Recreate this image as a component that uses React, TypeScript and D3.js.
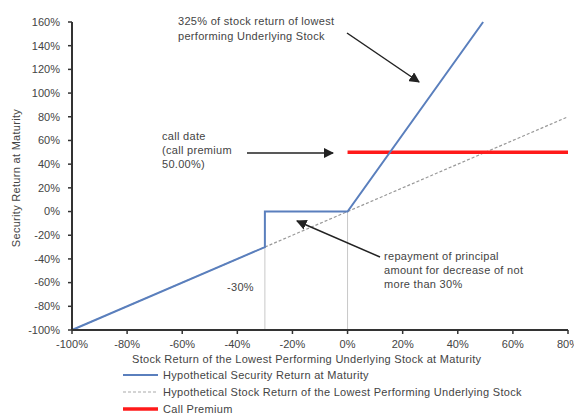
import React from "react";
import * as d3 from "d3";

const securityX = [-100, -30, -30, 0, 49.2];
const securityY = [-100, -30, 0, 0, 160];
const stockX = [-100, 80];
const stockY = [-100, 80];
const premiumX = [0, 80];
const premiumY = [50, 50];
const refLinesX = [-30, 0];
const refLinesTop = [-30, 0];
const yTicks = [-100, -80, -60, -40, -20, 0, 20, 40, 60, 80, 100, 120, 140, 160];
const xTicks = [-100, -80, -60, -40, -20, 0, 20, 40, 60, 80];
const legendLabels = [
  "Hypothetical Security Return at Maturity",
  "Hypothetical Stock Return of the Lowest Performing Underlying Stock",
  "Call Premium",
];

const W = 574;
const H = 416;
const FONT = "'Liberation Sans', Arial, sans-serif";

export default function App() {
  const x = d3.scaleLinear().domain([-100, 80]).range([72, 568]);
  const y = d3.scaleLinear().domain([-100, 160]).range([330, 22]);
  const line = d3.line<[number, number]>().x((d) => x(d[0])).y((d) => y(d[1]));
  const sec = securityX.map((v, i) => [v, securityY[i]] as [number, number]);
  const stk = stockX.map((v, i) => [v, stockY[i]] as [number, number]);
  const prem = premiumX.map((v, i) => [v, premiumY[i]] as [number, number]);
  const txt = "#444";
  const fs = 11;
  const ls = 0.3;
  return (
    <svg width={W} height={H} style={{ position: "absolute", left: 0, top: 0, background: "#fff" }} fontFamily={FONT}>
      <defs>
        <marker id="ah" viewBox="0 0 10 10" refX="9" refY="5" markerWidth="7" markerHeight="7" orient="auto">
          <path d="M0,0 L10,5 L0,10 z" fill="#222" />
        </marker>
      </defs>
      {refLinesX.map((v, i) => (
        <line key={i} x1={x(v)} x2={x(v)} y1={y(-100)} y2={y(refLinesTop[i])} stroke="#c8c8c8" strokeWidth={1} />
      ))}
      <path d={line(stk) || ""} fill="none" stroke="#999" strokeWidth={1.2} strokeDasharray="3,2" />
      <path d={line(prem) || ""} fill="none" stroke="#ff1a1a" strokeWidth={3.5} />
      <path d={line(sec) || ""} fill="none" stroke="#5a7fbd" strokeWidth={2} />
      {/* axes */}
      <line x1={x(-100)} x2={x(-100)} y1={y(160)} y2={y(-100)} stroke="#333" strokeWidth={2} />
      <line x1={x(-100)} x2={x(80)} y1={y(-100)} y2={y(-100)} stroke="#333" strokeWidth={2} />
      {yTicks.map((t) => (
        <g key={t}>
          <line x1={x(-100) - 4} x2={x(-100)} y1={y(t)} y2={y(t)} stroke="#333" strokeWidth={1.5} />
          <text x={x(-100) - 12} y={y(t)} dy="0.35em" textAnchor="end" fontSize={fs} fill={txt}>
            {t}%
          </text>
        </g>
      ))}
      {xTicks.map((t) => (
        <g key={t}>
          <line x1={x(t)} x2={x(t)} y1={y(-100)} y2={y(-100) + 4} stroke="#333" strokeWidth={1.5} />
          <text x={x(t)} y={y(-100) + 14} dy="0.35em" textAnchor="middle" fontSize={fs} fill={txt}>
            {t}%
          </text>
        </g>
      ))}
      <text transform="translate(16,178) rotate(-90)" textAnchor="middle" dy="0.35em" fontSize={fs} letterSpacing={ls} fill={txt}>
        Security Return at Maturity
      </text>
      <text x={132} y={359} dy="0.35em" fontSize={fs} letterSpacing={ls} fill={txt}>
        Stock Return of the Lowest Performing Underlying Stock at Maturity
      </text>
      {/* annotations */}
      <g fontSize={fs} letterSpacing={ls} fill={txt}>
        <text x={178} y={21} dy="0.35em">325% of stock return of lowest</text>
        <text x={178} y={36} dy="0.35em">performing Underlying Stock</text>
        <text x={162} y={136} dy="0.35em">call date</text>
        <text x={162} y={150} dy="0.35em">(call premium</text>
        <text x={162} y={164} dy="0.35em">50.00%)</text>
        <text x={384} y={256} dy="0.35em">repayment of principal</text>
        <text x={384} y={270} dy="0.35em">amount for decrease of not</text>
        <text x={384} y={284} dy="0.35em">more than 30%</text>
        <text x={227} y={287} dy="0.35em">-30%</text>
      </g>
      <line x1={347} y1={33} x2={419} y2={82} stroke="#222" strokeWidth={1.5} markerEnd="url(#ah)" />
      <line x1={247} y1={153} x2={333} y2={153} stroke="#222" strokeWidth={1.5} markerEnd="url(#ah)" />
      <line x1={380} y1={257} x2={297} y2={221} stroke="#222" strokeWidth={1.5} markerEnd="url(#ah)" />
      {/* legend */}
      {legendLabels.map((l, i) => {
        const ly = 375 + i * 17;
        return (
          <g key={l}>
            <line
              x1={123}
              x2={158}
              y1={ly}
              y2={ly}
              stroke={i === 0 ? "#5a7fbd" : i === 1 ? "#aaa" : "#ff1a1a"}
              strokeWidth={i === 0 ? 2 : i === 1 ? 1.2 : 3.5}
              strokeDasharray={i === 1 ? "3,2" : undefined}
            />
            <text x={163} y={ly} dy="0.35em" fontSize={fs} letterSpacing={ls} fill={txt}>
              {l}
            </text>
          </g>
        );
      })}
    </svg>
  );
}
